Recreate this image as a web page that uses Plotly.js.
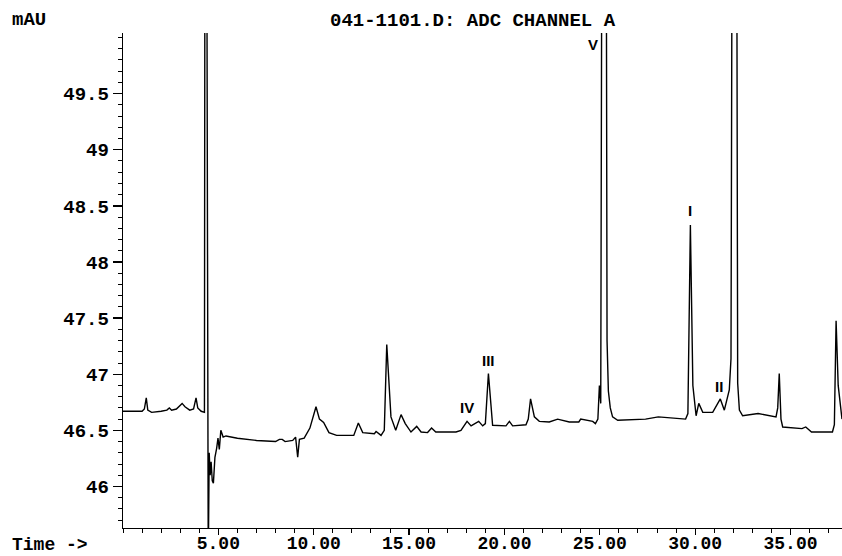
<!DOCTYPE html>
<html>
<head>
<meta charset="utf-8">
<script src="https://cdn.plot.ly/plotly-3.0.1.min.js"></script>
<style>
html,body{margin:0;padding:0;background:#fff;}
#chart{width:842px;height:556px;}
</style>
</head>
<body>
<div id="chart"></div>
<script>
// Retention time (min)
const time = [
 0.00,0.50,1.00,1.12,1.22,1.30,1.50,2.00,2.30,2.43,2.55,2.80,3.00,3.10,3.25,3.50,3.70,3.83,3.92,4.10,4.27,
 4.30,4.38,4.42,4.47,4.52,4.57,4.62,4.68,4.74,4.82,4.91,4.98,5.05,5.13,5.25,5.40,6.00,7.00,8.00,8.20,8.35,8.50,
 8.90,9.05,9.16,9.25,9.50,9.80,10.12,10.30,10.52,10.80,11.20,12.10,12.34,12.57,13.18,13.27,13.53,13.70,13.83,
 14.05,14.30,14.58,14.80,15.10,15.40,15.63,15.97,16.18,16.40,17.46,17.72,18.04,18.25,18.65,18.86,19.00,19.16,
 19.38,20.08,20.26,20.43,21.13,21.25,21.37,21.57,21.83,22.35,22.79,23.40,23.90,24.00,24.63,24.77,24.90,24.98,
 25.05,25.12,25.33,25.38,25.45,25.55,25.67,25.94,27.40,28.07,28.90,29.50,29.62,29.75,29.88,29.96,30.05,30.19,
 30.40,30.92,31.32,31.53,31.79,31.88,31.95,32.17,32.23,32.32,32.49,33.30,34.24,34.33,34.41,34.50,34.59,35.60,
 35.80,36.10,37.20,37.30,37.39,37.50,37.65,37.70
];
// Detector signal (mAU)
const signal = [
 46.67,46.67,46.67,46.69,46.79,46.68,46.66,46.67,46.68,46.70,46.68,46.69,46.72,46.74,46.71,46.68,46.69,46.79,46.70,46.67,46.66,
 52.00,52.00,47.00,45.30,46.30,46.10,46.22,46.05,46.03,46.26,46.34,46.43,46.33,46.50,46.44,46.45,46.43,46.41,46.40,46.42,46.42,46.40,
 46.41,46.44,46.26,46.42,46.43,46.52,46.71,46.60,46.57,46.48,46.455,46.455,46.565,46.48,46.47,46.49,46.455,46.50,47.265,
 46.62,46.50,46.64,46.56,46.485,46.535,46.485,46.48,46.52,46.485,46.485,46.50,46.58,46.54,46.58,46.54,46.56,47.006,
 46.545,46.54,46.58,46.54,46.55,46.60,46.78,46.62,46.58,46.575,46.60,46.575,46.575,46.60,46.58,46.56,46.60,46.90,
 46.74,52.00,52.00,47.30,46.85,46.70,46.62,46.59,46.60,46.62,46.61,46.60,46.65,48.33,46.90,46.74,46.63,46.74,
 46.66,46.66,46.78,46.68,46.86,47.14,52.00,52.00,46.92,46.68,46.63,46.65,46.62,46.70,47.006,46.60,46.53,46.515,
 46.53,46.485,46.485,46.55,47.476,46.90,46.62,46.60
];
// Peak annotations
const peakNames  = ["V", "I", "II", "III", "IV"];
const peakTimes  = [24.62, 29.75, 31.27, 19.14, 18.05];
const peakValues = [49.94, 48.46, 46.89, 47.125, 46.70];
// Axis tick labels
const xTickVals = [5, 10, 15, 20, 25, 30, 35];
const xTickText = ["5.00", "10.00", "15.00", "20.00", "25.00", "30.00", "35.00"];
const yTickVals = [46, 46.5, 47, 47.5, 48, 48.5, 49, 49.5];
const yTickText = ["46", "46.5", "47", "47.5", "48", "48.5", "49", "49.5"];

const MONO = "'Liberation Mono', 'Courier New', monospace";

const trace = {
  x: time, y: signal, type: "scatter", mode: "lines",
  line: {color: "#000", width: 1.4, shape: "linear"},
  hoverinfo: "skip", showlegend: false
};

const annotations = peakNames.map((n, i) => ({
  x: peakTimes[i], y: peakValues[i], xref: "x", yref: "y",
  text: "<b>" + n + "</b>", showarrow: false,
  font: {family: "'Liberation Sans', Arial, sans-serif", size: 15, color: "#000"},
  xanchor: "center", yanchor: "middle"
}));
annotations.push(
  {x: -0.157, y: 1.026, xref: "paper", yref: "paper", text: "<b>mAU</b>", showarrow: false,
   xanchor: "left", yanchor: "middle", font: {family: MONO, size: 19, color: "#000"}},
  {x: -0.157, y: -0.034, xref: "paper", yref: "paper", text: "<b>Time -></b>", showarrow: false,
   xanchor: "left", yanchor: "middle", font: {family: MONO, size: 18, color: "#000"}},
  {x: 0.4868, y: 1.0242, xref: "paper", yref: "paper", text: "<b>041-1101.D: ADC CHANNEL A</b>", showarrow: false,
   xanchor: "center", yanchor: "middle", font: {family: MONO, size: 19, color: "#000"}}
);

const layout = {
  width: 842, height: 556,
  margin: {l: 123, r: 0, t: 33, b: 28, pad: 0},
  paper_bgcolor: "#fff", plot_bgcolor: "#fff",
  showlegend: false,
  xaxis: {
    range: [0, 37.7], showgrid: false, zeroline: false,
    showline: true, linecolor: "#000", linewidth: 1.3,
    tickmode: "array", tickvals: xTickVals, ticktext: xTickText,
    ticks: "outside", ticklen: 6, tickwidth: 1.3, tickcolor: "#000",
    ticklabelstandoff: -8,
    minor: {tickmode: "linear", tick0: 0, dtick: 1, ticks: "outside", ticklen: 4, tickwidth: 1, tickcolor: "#000", showgrid: false},
    tickfont: {family: MONO, size: 18, color: "#000", weight: "bold"},
    fixedrange: true
  },
  yaxis: {
    range: [45.63, 50.04], showgrid: false, zeroline: false,
    showline: true, linecolor: "#000", linewidth: 1.3,
    tickmode: "array", tickvals: yTickVals, ticktext: yTickText,
    ticks: "outside", ticklen: 9, tickwidth: 1.3, tickcolor: "#000",
    minor: {tickmode: "linear", tick0: 0, dtick: 0.1, ticks: "outside", ticklen: 4, tickwidth: 1, tickcolor: "#000", showgrid: false},
    tickfont: {family: MONO, size: 19, color: "#000", weight: "bold"},
    fixedrange: true
  },
  annotations: annotations
};

Plotly.newPlot("chart", [trace], layout, {staticPlot: true, displayModeBar: false});
</script>
</body>
</html>
